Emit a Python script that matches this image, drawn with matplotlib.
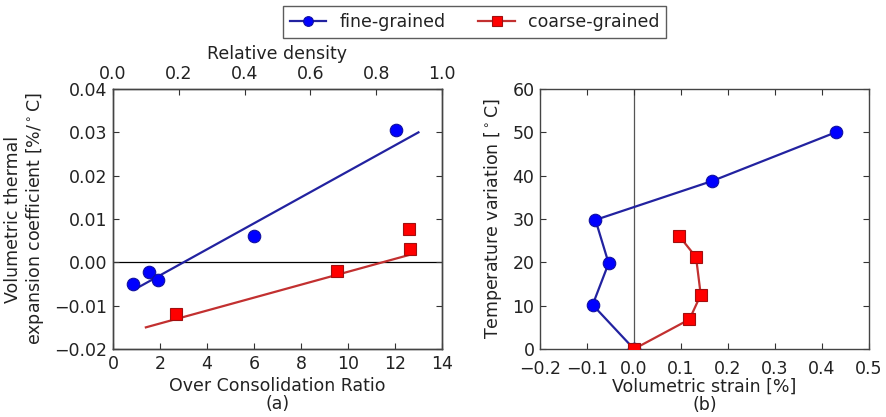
import matplotlib
matplotlib.use("Agg")
import matplotlib.pyplot as plt

plt.rcParams['font.family'] = ['DejaVu Sans']
plt.rcParams['font.size'] = 12.5
plt.rcParams['text.color'] = '#222222'
plt.rcParams['axes.labelcolor'] = '#222222'
plt.rcParams['xtick.color'] = '#333333'
plt.rcParams['ytick.color'] = '#333333'
plt.rcParams['xtick.labelcolor'] = '#222222'
plt.rcParams['ytick.labelcolor'] = '#222222'
plt.rcParams['mathtext.default'] = 'regular'

# ---- Panel (a) data ----
fine_ocr = [0.86, 1.53, 1.91, 6.0, 12.05]
fine_coef = [-0.0051, -0.0022, -0.0041, 0.0060, 0.0306]
fine_fit_x = [1.0, 13.0]
fine_fit_y = [-0.0060, 0.0300]

coarse_ocr = [2.67, 9.54, 12.6, 12.64]
coarse_coef = [-0.0120, -0.0021, 0.0076, 0.0031]
coarse_fit_x = [1.4, 12.6]
coarse_fit_y = [-0.0150, 0.0017]

# ---- Panel (b) data ----
fine_strain = [0.0, -0.088, -0.054, -0.082, 0.167, 0.429]
fine_temp = [0.0, 10.2, 19.8, 29.8, 38.8, 50.0]
coarse_strain = [0.0, 0.118, 0.142, 0.132, 0.096]
coarse_temp = [0.0, 6.85, 12.5, 21.2, 26.1]

blue_line = '#2222a0'
red_line = '#c23030'

fig = plt.figure(figsize=(8.86, 4.17), dpi=100)

ax1 = fig.add_axes([0.1275, 0.163, 0.3713, 0.6235])
ax2 = fig.add_axes([0.6095, 0.163, 0.3713, 0.6235])

for ax in (ax1, ax2):
    ax.tick_params(direction='in', length=4, width=0.8, top=True, right=True, pad=4)
    for s in ax.spines.values():
        s.set_color('#444444')
        s.set_linewidth(1.0)
ax2.tick_params(axis='x', pad=8)

# Panel (a)
ax1.axhline(0, color='black', lw=0.9, zorder=1)
ax1.plot(fine_fit_x, fine_fit_y, color=blue_line, lw=1.6, zorder=2)
ax1.plot(coarse_fit_x, coarse_fit_y, color=red_line, lw=1.6, zorder=2)
ax1.plot(fine_ocr, fine_coef, 'o', ms=9, mfc='blue', mec='#1010a0', mew=0.8, zorder=3)
ax1.plot(coarse_ocr, coarse_coef, 's', ms=9, mfc='red', mec='#a01010', mew=0.8, zorder=3)
ax1.set_xlim(0, 14)
ax1.set_ylim(-0.02, 0.04)
ax1.set_xticks([0, 2, 4, 6, 8, 10, 12, 14])
ax1.set_yticks([-0.02, -0.01, 0.0, 0.01, 0.02, 0.03, 0.04])
ax1.set_yticklabels(['\u22120.02', '\u22120.01', '0.00', '0.01', '0.02', '0.03', '0.04'])
ax1.set_xlabel('Over Consolidation Ratio\n(a)', labelpad=3, linespacing=1.0)
ax1.set_ylabel('Volumetric thermal\nexpansion coefficient [%/$^\\circ$C]', labelpad=6, linespacing=1.1)

ax1t = ax1.twiny()
ax1t.set_xlim(0, 1)
ax1t.set_xticks([0.0, 0.2, 0.4, 0.6, 0.8, 1.0])
ax1t.set_xticklabels(['0.0', '0.2', '0.4', '0.6', '0.8', '1.0'])
ax1t.tick_params(direction='in', length=4, width=0.8, pad=4)
ax1t.set_xlabel('Relative density', labelpad=5)
for s in ax1t.spines.values():
    s.set_color('#444444')
    s.set_linewidth(1.0)

# Panel (b)
ax2.axvline(0, color='#555555', lw=0.9, zorder=1)
h1, = ax2.plot(fine_strain, fine_temp, '-o', color=blue_line, lw=1.6, ms=9,
               mfc='blue', mec='#1010a0', mew=0.8, label='fine-grained', zorder=3)
h2, = ax2.plot(coarse_strain, coarse_temp, '-s', color=red_line, lw=1.6, ms=9,
               mfc='red', mec='#a01010', mew=0.8, label='coarse-grained', zorder=3)
ax2.set_xlim(-0.2, 0.5)
ax2.set_ylim(0, 60)
ax2.set_xticks([-0.2, -0.1, 0.0, 0.1, 0.2, 0.3, 0.4, 0.5])
ax2.set_xticklabels(['\u22120.2', '\u22120.1', '0.0', '0.1', '0.2', '0.3', '0.4', '0.5'])
ax2.set_yticks([0, 10, 20, 30, 40, 50, 60])
ax2.set_xlabel('Volumetric strain [%]\n(b)', labelpad=0, linespacing=1.0)
ax2.set_ylabel('Temperature variation [$^\\circ$C]', labelpad=6)

leg = fig.legend(handles=[h1, h2], loc='center', bbox_to_anchor=(0.5356, 0.948),
                 ncol=2, frameon=True, fancybox=False, edgecolor='#333333',
                 fontsize=12.5, handlelength=2.1, columnspacing=1.9,
                 borderpad=0.4, numpoints=1, handletextpad=0.75)
leg.get_frame().set_linewidth(1.0)
for lh in leg.legend_handles:
    lh.set_markersize(7)

fig.savefig('out.png', dpi=100)
